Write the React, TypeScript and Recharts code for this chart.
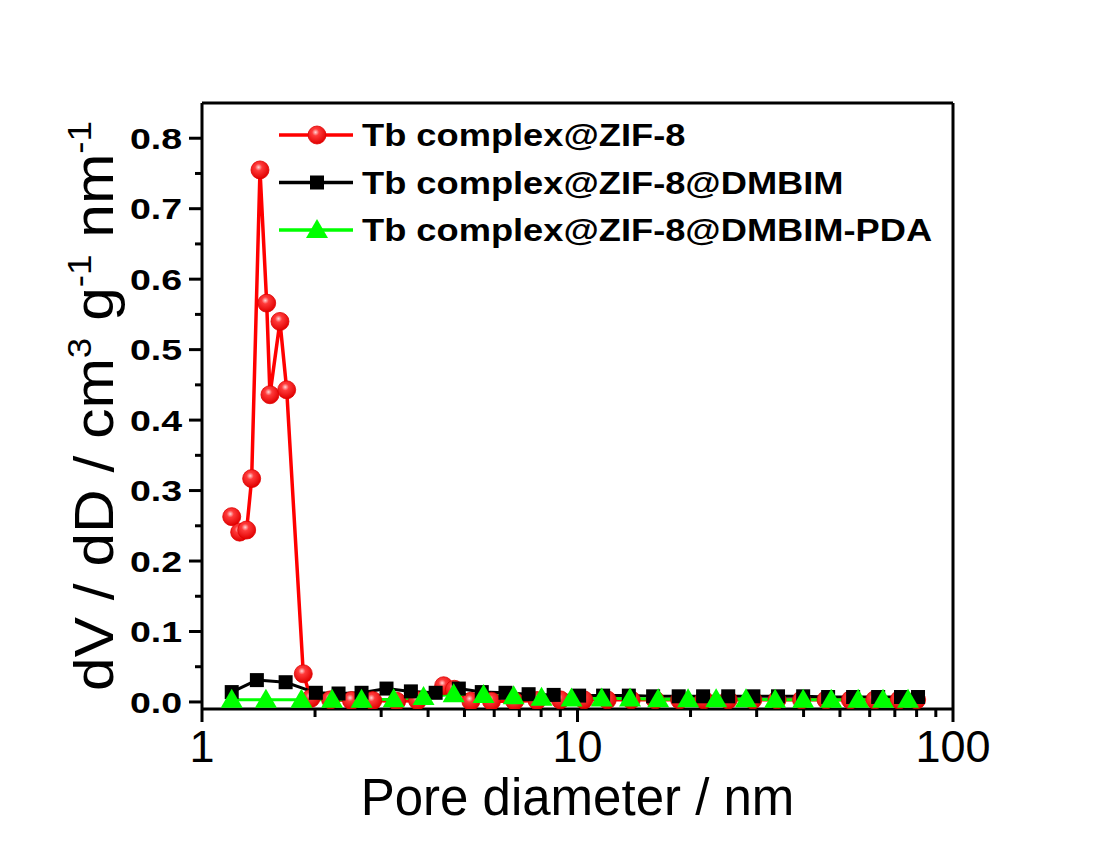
import React from 'react';
import { LineChart, Line, XAxis, YAxis, Legend, ReferenceLine } from 'recharts';

// pore diameter (nm) and dV/dD values
const zifX = [1.2, 1.26, 1.315, 1.356, 1.427, 1.487, 1.517, 1.613, 1.681, 1.861, 1.95, 2.2, 2.5, 2.85, 3.3, 3.75, 4.4, 4.7, 5.2, 5.9, 6.8, 7.8, 9.0, 10.4, 12.0, 13.9, 16.1, 18.7, 21.7, 25.2, 29.3, 34.0, 39.5, 45.9, 53.3, 61.9, 71.9, 80.0];
const zifY = [0.263, 0.241, 0.244, 0.317, 0.755, 0.566, 0.436, 0.54, 0.443, 0.04, 0.005, 0.003, 0.002, 0.002, 0.001, 0.002, 0.023, 0.018, 0.001, 0.001, 0.001, 0.002, 0.003, 0.003, 0.003, 0.003, 0.003, 0.003, 0.003, 0.003, 0.003, 0.003, 0.003, 0.003, 0.003, 0.003, 0.003, 0.003];

const dmbimX = [1.2, 1.4, 1.67, 2.01, 2.31, 2.66, 3.1, 3.6, 4.19, 4.83, 5.56, 6.43, 7.41, 8.64, 10.1, 11.7, 13.7, 15.9, 18.6, 21.6, 25.2, 29.4, 34.2, 39.9, 46.5, 54.2, 63.2, 72.7, 80.7];
const dmbimY = [0.014, 0.031, 0.028, 0.013, 0.012, 0.013, 0.019, 0.015, 0.013, 0.019, 0.014, 0.013, 0.011, 0.01, 0.009, 0.009, 0.009, 0.008, 0.008, 0.008, 0.008, 0.008, 0.008, 0.008, 0.007, 0.007, 0.007, 0.007, 0.007];

const pdaX = [1.2, 1.48, 1.84, 2.22, 2.66, 3.24, 3.89, 4.68, 5.62, 6.76, 8.02, 9.64, 11.6, 13.8, 16.4, 19.7, 23.4, 28.1, 33.6, 39.9, 47.4, 55.9, 65.1, 75.9];
const pdaY = [0.003, 0.003, 0.003, 0.003, 0.003, 0.004, 0.007, 0.011, 0.01, 0.008, 0.006, 0.005, 0.005, 0.005, 0.004, 0.004, 0.004, 0.004, 0.003, 0.003, 0.003, 0.003, 0.003, 0.003];

const seriesNames = ['Tb complex@ZIF-8', 'Tb complex@ZIF-8@DMBIM', 'Tb complex@ZIF-8@DMBIM-PDA'];
const seriesColors = ['#ff0000', '#000000', '#00ff00'];

const xTicks = [1, 2, 3, 4, 5, 6, 7, 8, 9, 10, 20, 30, 40, 50, 60, 70, 80, 90, 100];
const xMajor = [1, 10, 100];
const yTicks = [0, 0.05, 0.1, 0.15, 0.2, 0.25, 0.3, 0.35, 0.4, 0.45, 0.5, 0.55, 0.6, 0.65, 0.7, 0.75, 0.8];

const FONT = 'Arial, "Liberation Sans", sans-serif';

const toPoints = (xs: number[], ys: number[]) => xs.map((x, i) => ({ x, y: ys[i] }));

const Ball = ({ cx, cy }: any) =>
    cx == null ? null : <circle cx={cx} cy={cy} r={9} fill="url(#redBall)" stroke="#e00000" strokeWidth={0.8} />;

const Square = ({ cx, cy }: any) =>
    cx == null ? null : <rect x={cx - 7} y={cy - 7} width={14} height={14} fill="#000" />;

const Tri = ({ cx, cy }: any) =>
    cx == null ? null : <polygon points={`${cx},${cy - 11} ${cx + 11},${cy + 8} ${cx - 11},${cy + 8}`} fill="#00ff00" />;

const markers = [Ball, Square, Tri];

const XTick = ({ x, y, payload }: any) => {
    const major = xMajor.includes(payload.value);
    return (
        <g>
            <line x1={x} x2={x} y1={y} y2={y + (major ? 13 : 8)} stroke="#000" strokeWidth={3} />
            {major && (
                <text x={x} y={y + 53} textAnchor="middle" fontSize={45} fontFamily={FONT} fill="#000">
                    {payload.value}
                </text>
            )}
        </g>
    );
};

const YTick = ({ x, y, payload }: any) => {
    const v = payload.value;
    const major = Math.round(v * 100) % 10 === 0;
    return (
        <g>
            <line x1={x} x2={x - (major ? 13 : 7)} y1={y} y2={y} stroke="#000" strokeWidth={3} />
            {major && (
                <text
                    transform={`translate(${x - 20}, ${y}) scale(1.25, 1)`}
                    textAnchor="end"
                    dominantBaseline="central"
                    fontSize={30}
                    fontWeight="bold"
                    fontFamily={FONT}
                    fill="#000">
                    {v.toFixed(1)}
                </text>
            )}
        </g>
    );
};

const XTitle = ({ viewBox }: any) => (
    <text x={viewBox.x + viewBox.width / 2} y={viewBox.y + 106} textAnchor="middle" fontSize={51} fontFamily={FONT} fill="#000">
        Pore diameter / nm
    </text>
);

const YTitle = ({ viewBox }: any) => (
    <text
        transform={`translate(113, ${viewBox.y + viewBox.height / 2}) rotate(-90)`}
        textAnchor="middle"
        fontSize={56}
        fontFamily={FONT}
        fill="#000"
        textLength={570}
        lengthAdjust="spacingAndGlyphs">
        dV / dD / cm<tspan dy={-22} fontSize={34}>3</tspan>
        <tspan dy={22}>{' g'}</tspan>
        <tspan dy={-22} fontSize={34}>-1</tspan>
        <tspan dy={22}>{' nm'}</tspan>
        <tspan dy={-22} fontSize={34}>-1</tspan>
    </text>
);

const LegendBox = ({ payload }: any) => (
    <svg width={720} height={160}>
        {(payload || []).map((item: any, i: number) => {
            const cy = 35 + i * 47.5;
            const Marker = markers[i];
            return (
                <g key={i}>
                    <line x1={19} x2={93} y1={cy} y2={cy} stroke={item.color} strokeWidth={3.5} />
                    <Marker cx={57} cy={cy} />
                    <text
                        transform={`translate(102, ${cy}) scale(1.17, 1)`}
                        dominantBaseline="central"
                        fontSize={31}
                        fontWeight="bold"
                        fontFamily={FONT}
                        fill="#000">
                        {item.value}
                    </text>
                </g>
            );
        })}
    </svg>
);

const App = () => {
    const series = [toPoints(zifX, zifY), toPoints(dmbimX, dmbimY), toPoints(pdaX, pdaY)];
    return (
        <div style={{ position: 'absolute', left: 0, top: 0, width: 1097, height: 846, background: '#fff' }}>
            <LineChart width={1097} height={846} margin={{ top: 103, right: 144, bottom: 37, left: 102 }}>
                <defs>
                    <radialGradient id="redBall" cx="42%" cy="35%" r="65%">
                        <stop offset="0%" stopColor="#ffd6d6" />
                        <stop offset="30%" stopColor="#ff3a3a" />
                        <stop offset="100%" stopColor="#e00000" />
                    </radialGradient>
                </defs>
                <XAxis
                    dataKey="x"
                    type="number"
                    scale="log"
                    domain={[1, 100]}
                    ticks={xTicks}
                    interval={0}
                    allowDataOverflow
                    height={100}
                    tickSize={0}
                    tickMargin={0}
                    tickLine={false}
                    tick={<XTick />}
                    axisLine={{ stroke: '#000', strokeWidth: 3 }}
                    label={<XTitle />}
                />
                <YAxis
                    type="number"
                    domain={[-0.01, 0.85]}
                    ticks={yTicks}
                    interval={0}
                    allowDataOverflow
                    width={100}
                    tickSize={0}
                    tickMargin={0}
                    tickLine={false}
                    tick={<YTick />}
                    axisLine={{ stroke: '#000', strokeWidth: 3 }}
                    label={<YTitle />}
                />
                <ReferenceLine y={0.85} stroke="#000" strokeWidth={3} />
                <ReferenceLine x={100} stroke="#000" strokeWidth={3} />
                <Legend
                    layout="vertical"
                    align="center"
                    verticalAlign="middle"
                    content={<LegendBox />}
                    wrapperStyle={{ top: 100, left: 260, width: 720, height: 160 }}
                />
                {series.map((data, i) => {
                    const Marker = markers[i];
                    return (
                        <Line
                            key={seriesNames[i]}
                            data={data}
                            dataKey="y"
                            name={seriesNames[i]}
                            stroke={seriesColors[i]}
                            strokeWidth={i === 0 ? 3.5 : 3}
                            dot={(p: any) => <Marker key={p.index} cx={p.cx} cy={p.cy} />}
                            activeDot={false}
                            isAnimationActive={false}
                        />
                    );
                })}
            </LineChart>
        </div>
    );
};

export default App;
